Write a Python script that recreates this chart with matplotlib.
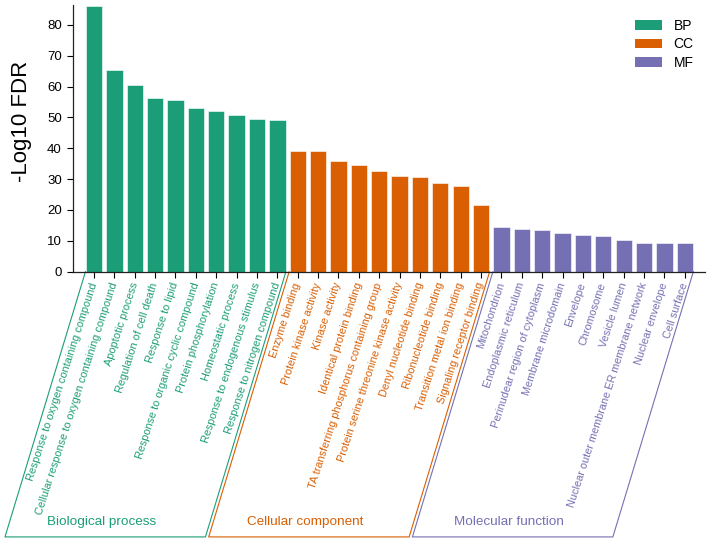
#!/usr/bin/env python3

import numpy as np
import matplotlib
matplotlib.use("Agg")
from matplotlib import pyplot as plt
from matplotlib.patches import Patch

# GO terms, grouped by category
bp_terms = ["Response to oxygen containing compound",
            "Cellular response to oxygen containing compound",
            "Apoptotic process",
            "Regulation of cell death",
            "Response to lipid",
            "Response to organic cyclic compound",
            "Protein phosphorylation",
            "Homeostatic process",
            "Response to endogenous stimulus",
            "Response to nitrogen compound"]
cc_terms = ["Enzyme binding",
            "Protein kinase activity",
            "Kinase activity",
            "Identical protein binding",
            "TA transferring phosphorus containing group",
            "Protein serine threonine kinase activity",
            "Denyl nucleotide binding",
            "Ribonucleotide binding",
            "Transition metal ion binding",
            "Signaling receptor binding"]
mf_terms = ["Mitochondrion",
            "Endoplasmic reticulum",
            "Perinudear region of cytoplasm",
            "Membrane microdomain",
            "Envelope",
            "Chromosome",
            "Vesicle lumen",
            "Nuclear outer membrane ER membrane network",
            "Nuclear envelope",
            "Cell surface"]

# -Log10 FDR values
bp_values = [86.3, 65.4, 60.5, 56.2, 55.6, 53.0, 52.1, 50.8, 49.5, 49.2]
cc_values = [39.1, 39.0, 35.8, 34.5, 32.7, 31.0, 30.8, 28.7, 27.9, 21.6]
mf_values = [14.5, 13.9, 13.4, 12.7, 11.9, 11.6, 10.4, 9.3, 9.3, 9.2]

group_keys = ["BP", "CC", "MF"]
group_names = ["Biological process", "Cellular component", "Molecular function"]
group_colors = ["#1b9e77", "#d95f02", "#7570b3"]

plt.rcParams['font.family'] = ['Liberation Sans', 'DejaVu Sans']

fig = plt.figure(figsize=(7.09, 5.45), dpi=100)
ax = fig.add_axes([0.103, 0.5015, 0.891, 0.4895])

terms = [bp_terms, cc_terms, mf_terms]
values = [bp_values, cc_values, mf_values]

start = 0
labels = []
label_colors = []
handles = []
for key, name, color, t, v in zip(group_keys, group_names, group_colors, terms, values):
    x = np.arange(start, start + len(v))
    ax.bar(x, v, width=0.8, color=color, edgecolor='white', linewidth=0.4)
    labels += t
    label_colors += [color] * len(t)
    handles.append(Patch(facecolor=color, label=key))

    # slanted bracket below the labels of this group
    slant = 3.95
    bottom = -86.0
    x0, x1 = x[0] - 0.42, x[-1] + 0.42
    ax.plot([x0, x0 - slant, x1 - slant, x1], [0, bottom, bottom, 0],
            color=color, linewidth=0.8, clip_on=False)
    ax.text((x0 + x1) / 2 - 4.15, -81.3, name, color=color, fontsize=9.7,
            ha='center', va='center', clip_on=False)
    start += len(v)

ax.set_xlim(-1.03, 29.98)
ax.set_ylim(0, 86.5)
ax.set_xticks(np.arange(len(labels)))
ax.set_xticklabels(labels, rotation=72, ha='right', va='center',
                   rotation_mode='anchor', fontsize=7.8)
for tick, c in zip(ax.get_xticklabels(), label_colors):
    tick.set_color(c)

ax.set_yticks(range(0, 81, 10))
ax.tick_params(axis='y', labelsize=9.5, length=4, width=0.8, pad=4)
ax.tick_params(axis='x', length=4, width=0.8, pad=4)
ax.set_ylabel('-Log10 FDR', fontsize=16)
ax.yaxis.set_label_coords(-0.065, 0.565)

ax.spines['top'].set_visible(False)
ax.spines['right'].set_visible(False)
for s in ['left', 'bottom']:
    ax.spines[s].set_linewidth(0.9)
    ax.spines[s].set_color('#222222')

ax.legend(handles=handles, loc='upper left', bbox_to_anchor=(0.878, 0.974),
          frameon=False, fontsize=10, handlelength=2.0, handleheight=0.65,
          handletextpad=0.8, labelspacing=0.33, borderpad=0)

fig.savefig('out.png', dpi=100)
